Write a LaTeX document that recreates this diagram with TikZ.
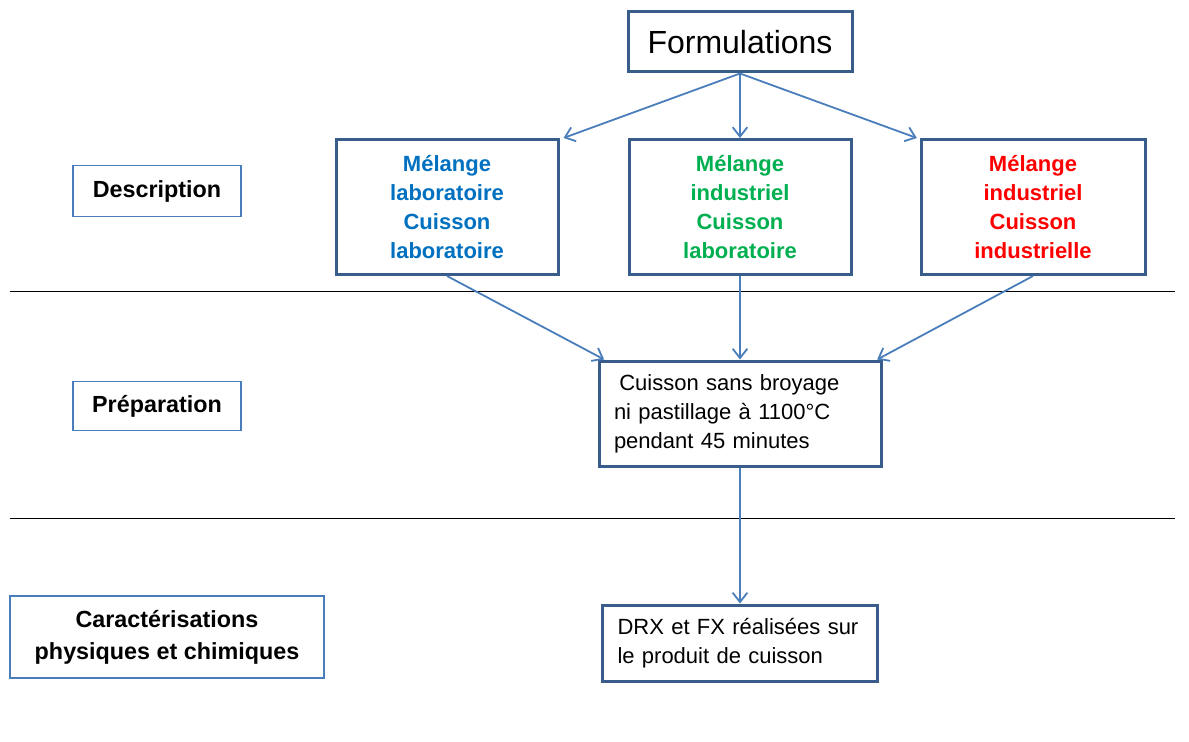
\documentclass[tikz,border=0pt]{standalone}
\usepackage{fontspec}
\setmainfont{Liberation Sans}
\usetikzlibrary{positioning, arrows.meta, calc}
\definecolor{frame}{HTML}{385D8A}
\definecolor{link}{HTML}{4A7EBB}
\definecolor{labo}{HTML}{0070C0}
\definecolor{indus}{HTML}{00B050}
\definecolor{full}{HTML}{FF0000}
\tikzset{
    stage/.style={draw=frame, line width=2.25pt, fill=white, inner sep=0pt, align=center,
      font=\fontsize{16.5}{21.75}\selectfont},
    mix/.style={stage, minimum width=166.5pt, minimum height=101.25pt,
      font=\bfseries\fontsize{16.5}{21.75}\selectfont},
    note/.style={stage, inner xsep=11.25pt, align=left},
    tag/.style={draw=link, line width=1pt, inner sep=0pt, align=center,
      font=\bfseries\fontsize{17.5}{24}\selectfont},
    flow/.style={draw=link, line width=1.35pt, -{Straight Barb[length=7pt,width=11pt]}},
}

\begin{document}
\begin{tikzpicture}[x=0.75pt, y=-0.75pt]
    \useasboundingbox (0,0) rectangle (1189,742);

    % separators between the three stages
    \coordinate (sepA-l) at (10,291);
    \coordinate (sepA-r) at (1175,291);
    \coordinate (sepB-l) at (10,518);
    \coordinate (sepB-r) at (1175,518);
    \draw[line width=0.75pt] (sepA-l) -- (sepA-r);
    \draw[line width=0.75pt] (sepB-l) -- (sepB-r);

    % stage names
    \node[tag, minimum width=126pt, minimum height=38.25pt] (desc) at (157,191) {Description};
    \node[tag, minimum width=126pt, minimum height=37pt] (prepa) at (157,406) {Préparation};
    \node[tag, minimum width=235.5pt, minimum height=61.5pt] (carac) at (167,637) {Caractérisations\\physiques et chimiques};

    % flow chart
    \node[stage, minimum width=168pt, minimum height=45pt, font=\fontsize{24}{28}\selectfont] (form) at (740,42) {Formulations};
    \node[mix, text=labo] (labo) at (447,207) {Mélange\\laboratoire\\Cuisson\\laboratoire};
    \node[mix, text=indus] (indus) at (740,207) {Mélange\\industriel\\Cuisson\\laboratoire};
    \node[mix, text=full, minimum width=168pt] (full) at (1033,207) {Mélange\\industriel\\Cuisson\\industrielle};
    \node[note, text width=189pt, minimum height=78.75pt] (prep) at (740,413.5)
      {\hspace*{4pt}Cuisson sans broyage\\ni pastillage à 1100°C\\pendant 45 minutes};
    \node[note, text width=183.75pt, minimum height=57pt] (drx) at (740,643)
      {DRX et FX réalisées sur\\le produit de cuisson};

    \draw[flow] (form.south) -- ([xshift=3pt]labo.north east);
    \draw[flow] (form.south) -- (indus.north);
    \draw[flow] (form.south) -- ([xshift=-2pt]full.north west);
    \draw[flow] (labo.south) -- ([xshift=5pt]prep.north west);
    \draw[flow] (indus.south) -- (prep.north);
    \draw[flow] (full.south) -- ([xshift=-4pt]prep.north east);
    \draw[flow] (prep.south) -- (drx.north);
\end{tikzpicture}
\end{document}
